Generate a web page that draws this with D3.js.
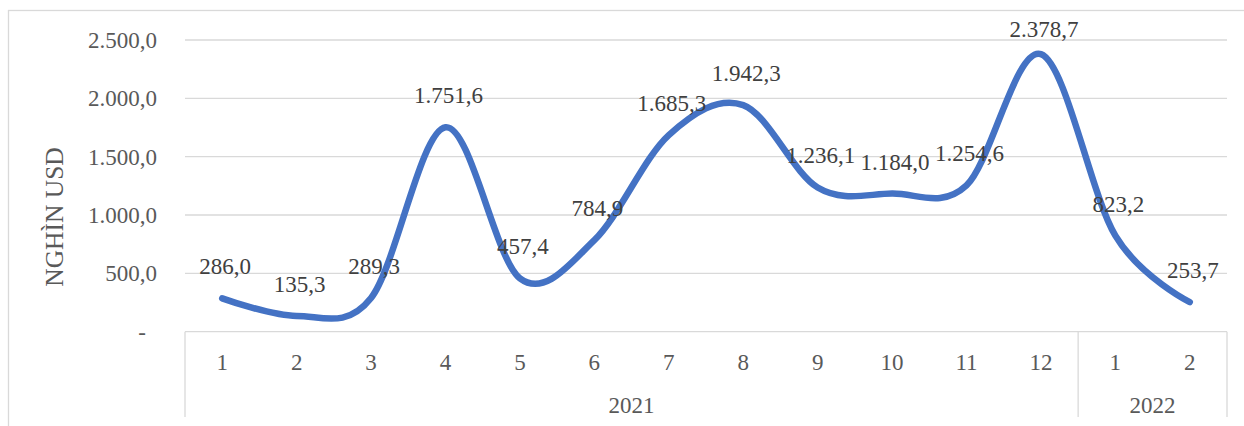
<!DOCTYPE html>
<html lang="vi">
<head>
    <meta charset="UTF-8">
    <title>Nghìn USD theo tháng</title>
    <script src="https://d3js.org/d3.v7.min.js"></script>
    <style>
        body { margin: 0; background: #fff; }
        text { font-family: "Liberation Serif", "Times New Roman", serif; }
    </style>
</head>
<body>
    <svg width="1244" height="426"></svg>

    <script>
        // dữ liệu
        const months = ["1", "2", "3", "4", "5", "6", "7", "8", "9", "10", "11", "12", "1", "2"];
        const years = ["2021", "2022"];
        const yearSpans = [12, 2];
        const values = [286.0, 135.3, 289.3, 1751.6, 457.4, 784.9, 1685.3, 1942.3, 1236.1, 1184.0, 1254.6, 2378.7, 823.2, 253.7];
        const yTicks = [0, 500, 1000, 1500, 2000, 2500];
        const yTitle = "NGHÌN USD";

        const svg = d3.select("svg");
        const plotL = 185, plotR = 1227, plotT = 40, plotB = 331.7;

        const idx = d3.range(values.length);
        const x = d3.scaleBand().domain(idx).range([plotL, plotR]).padding(0);
        const y = d3.scaleLinear().domain([0, 2500]).range([plotB, plotT]);
        const cx = i => x(i) + x.bandwidth() / 2;

        const vn = d3.formatLocale({ decimal: ",", thousands: ".", grouping: [3], currency: ["", ""] });
        const fmt = vn.format(",.1f");

        // khung ngoài
        svg.append("rect")
            .attr("x", 8.5).attr("y", 10.5)
            .attr("width", 1400).attr("height", 600)
            .attr("fill", "none").attr("stroke", "#d9d9d9").attr("stroke-width", 1.3);

        // lưới ngang
        svg.append("g").selectAll("line")
            .data(yTicks)
            .join("line")
            .attr("x1", plotL).attr("x2", plotR)
            .attr("y1", d => y(d)).attr("y2", d => y(d))
            .attr("stroke", "#d9d9d9").attr("stroke-width", 1.3);

        // nhãn trục tung
        svg.append("g").selectAll("text")
            .data(yTicks)
            .join("text")
            .attr("x", d => d === 0 ? 146 : 157)
            .attr("y", d => y(d))
            .attr("dy", "0.35em")
            .attr("text-anchor", "end")
            .attr("fill", "#595959")
            .attr("font-size", 23)
            .text(d => d === 0 ? "-" : fmt(d));

        svg.append("text")
            .attr("transform", "translate(63,217) rotate(-90)")
            .attr("text-anchor", "middle")
            .attr("fill", "#595959")
            .attr("font-size", 25.5)
            .text(yTitle);

        // trục hoành nhiều cấp
        let start = 0;
        const bounds = [plotL];
        years.forEach((yr, k) => {
            const end = start + yearSpans[k];
            bounds.push(x(end - 1) + x.bandwidth());
            svg.append("text")
                .attr("x", (x(start) + x(end - 1) + x.bandwidth()) / 2)
                .attr("y", 405)
                .attr("dy", "0.35em")
                .attr("text-anchor", "middle")
                .attr("fill", "#595959")
                .attr("font-size", 23)
                .text(yr);
            start = end;
        });

        svg.append("g").selectAll("line")
            .data(bounds)
            .join("line")
            .attr("x1", d => d).attr("x2", d => d)
            .attr("y1", plotB).attr("y2", 417)
            .attr("stroke", "#d9d9d9").attr("stroke-width", 1.3);

        svg.append("g").selectAll("text")
            .data(months)
            .join("text")
            .attr("x", (d, i) => cx(i))
            .attr("y", 362)
            .attr("dy", "0.35em")
            .attr("text-anchor", "middle")
            .attr("fill", "#595959")
            .attr("font-size", 23)
            .text(d => d);

        // đường
        const line = d3.line()
            .x((d, i) => cx(i))
            .y(d => y(d))
            .curve(d3.curveCatmullRom.alpha(0));

        svg.append("path")
            .datum(values)
            .attr("d", line)
            .attr("fill", "none")
            .attr("stroke", "#4472c4")
            .attr("stroke-width", 6.5)
            .attr("stroke-linecap", "round")
            .attr("stroke-linejoin", "round");

        // nhãn dữ liệu
        svg.append("g").selectAll("text")
            .data(values)
            .join("text")
            .attr("x", (d, i) => cx(i) + 3)
            .attr("y", d => Math.max(y(d) - 24, 37))
            .attr("text-anchor", "middle")
            .attr("fill", "#404040")
            .attr("font-size", 23)
            .text(d => fmt(d));
    </script>
</body>
</html>
